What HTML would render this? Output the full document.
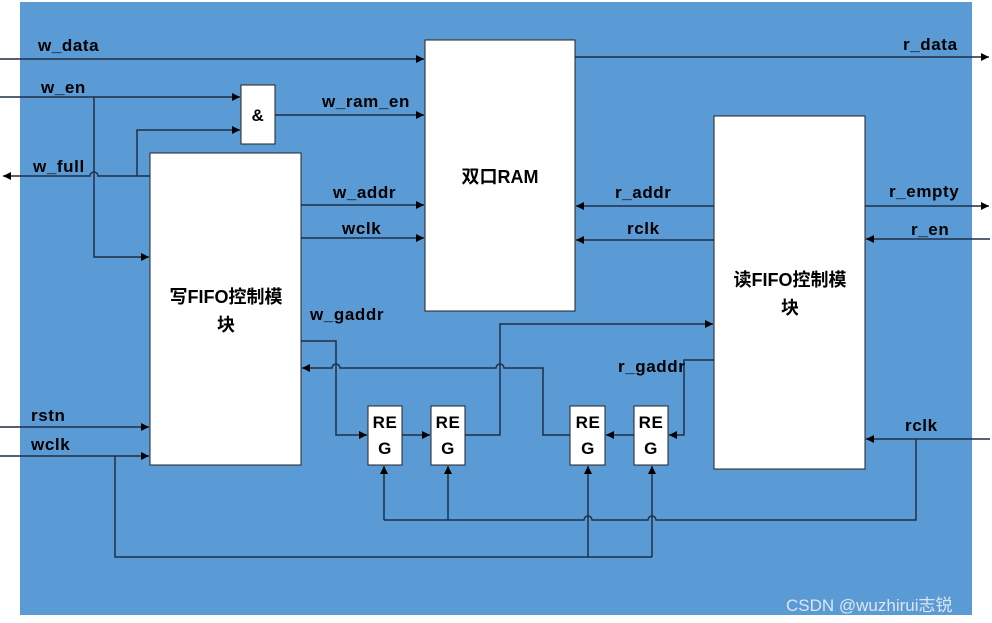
<!DOCTYPE html>
<html><head><meta charset="utf-8"><style>
html,body{margin:0;padding:0;background:#fff;}
svg{display:block;}
text{font-family:"Liberation Sans","Noto Sans CJK SC",sans-serif;font-weight:bold;font-size:17px;letter-spacing:0.6px;fill:#000;}
.big{font-size:18px;letter-spacing:0;}
</style></head><body>
<svg width="992" height="623" viewBox="0 0 992 623" xmlns="http://www.w3.org/2000/svg">
<defs>
<marker id="a" viewBox="0 0 10 10" refX="10" refY="5" markerWidth="8" markerHeight="8" markerUnits="userSpaceOnUse" orient="auto"><path d="M0,0 L10,5 L0,10 z" fill="#000"/></marker>
</defs>
<rect x="20" y="2" width="952" height="613" fill="#5b9bd5"/>
<g stroke="#1f2f45" stroke-width="1.5" fill="none">
<line x1="0" y1="59" x2="424" y2="59" marker-end="url(#a)"/>
<line x1="0" y1="97" x2="240" y2="97" marker-end="url(#a)"/>
<polyline points="94,97 94,257 149,257" marker-end="url(#a)"/>
<path d="M150,176 L98,176 A4,4 0 0 0 90,176 L3,176" marker-end="url(#a)"/>
<polyline points="137,176 137,130 240,130" marker-end="url(#a)"/>
<line x1="275" y1="115" x2="424" y2="115" marker-end="url(#a)"/>
<line x1="301" y1="205" x2="424" y2="205" marker-end="url(#a)"/>
<line x1="301" y1="238" x2="424" y2="238" marker-end="url(#a)"/>
<line x1="575" y1="57" x2="989" y2="57" marker-end="url(#a)"/>
<line x1="714" y1="206" x2="576" y2="206" marker-end="url(#a)"/>
<line x1="714" y1="240" x2="576" y2="240" marker-end="url(#a)"/>
<line x1="865" y1="206" x2="989" y2="206" marker-end="url(#a)"/>
<line x1="990" y1="239" x2="866" y2="239" marker-end="url(#a)"/>
<polyline points="465,435 500,435 500,324 713,324" marker-end="url(#a)"/>
<polyline points="301,341 336,341 336,435 367,435" marker-end="url(#a)"/>
<line x1="402" y1="435" x2="430" y2="435" marker-end="url(#a)"/>
<path d="M570,435 L543,435 L543,368 L504,368 A4,4 0 0 0 496,368 L340,368 A4,4 0 0 0 332,368 L302,368" marker-end="url(#a)"/>
<line x1="634" y1="435" x2="606" y2="435" marker-end="url(#a)"/>
<polyline points="714,360 684,360 684,435 669,435" marker-end="url(#a)"/>
<line x1="0" y1="427" x2="149" y2="427" marker-end="url(#a)"/>
<line x1="0" y1="456" x2="149" y2="456" marker-end="url(#a)"/>
<polyline points="115,456 115,557 652,557"/>
<line x1="588" y1="557" x2="588" y2="466" marker-end="url(#a)"/>
<line x1="652" y1="557" x2="652" y2="466" marker-end="url(#a)"/>
<line x1="990" y1="439" x2="866" y2="439" marker-end="url(#a)"/>
<path d="M916,439 L916,520 L656,520 A4,4 0 0 0 648,520 L592,520 A4,4 0 0 0 584,520 L384,520"/>
<line x1="384" y1="520" x2="384" y2="466" marker-end="url(#a)"/>
<line x1="448" y1="520" x2="448" y2="466" marker-end="url(#a)"/>
</g>
<g fill="#fff" stroke="#222" stroke-width="1">
<rect x="425" y="40" width="150" height="271"/>
<rect x="150" y="153" width="151" height="312"/>
<rect x="714" y="116" width="151" height="353"/>
<rect x="241" y="85" width="34" height="59"/>
<rect x="368" y="406" width="34" height="59"/>
<rect x="431" y="406" width="34" height="59"/>
<rect x="570" y="406" width="35" height="59"/>
<rect x="634" y="406" width="34" height="59"/>
</g>
<text x="38" y="51">w_data</text>
<text x="41" y="93">w_en</text>
<text x="33" y="172">w_full</text>
<text x="258" y="121" text-anchor="middle">&amp;</text>
<text x="322" y="107">w_ram_en</text>
<text x="333" y="198">w_addr</text>
<text x="342" y="234">wclk</text>
<text x="310" y="320">w_gaddr</text>
<text class="big" x="500" y="183" text-anchor="middle">双口RAM</text>
<text class="big" x="226" y="303" text-anchor="middle">写FIFO控制模</text>
<text class="big" x="226" y="331" text-anchor="middle">块</text>
<text class="big" x="790" y="286" text-anchor="middle">读FIFO控制模</text>
<text class="big" x="790" y="314" text-anchor="middle">块</text>
<text x="903" y="50">r_data</text>
<text x="615" y="198">r_addr</text>
<text x="627" y="234">rclk</text>
<text x="889" y="197">r_empty</text>
<text x="911" y="235">r_en</text>
<text x="618" y="372">r_gaddr</text>
<text x="905" y="431">rclk</text>
<text x="31" y="421">rstn</text>
<text x="31" y="450">wclk</text>
<g text-anchor="middle">
<text x="385" y="428">RE</text><text x="385" y="454">G</text>
<text x="448" y="428">RE</text><text x="448" y="454">G</text>
<text x="588" y="428">RE</text><text x="588" y="454">G</text>
<text x="651" y="428">RE</text><text x="651" y="454">G</text>
</g>
<text x="786" y="611" style="font-weight:normal;font-size:17px;letter-spacing:0;fill:#dde6ee;">CSDN @wuzhirui志锐</text>
</svg>
</body></html>
